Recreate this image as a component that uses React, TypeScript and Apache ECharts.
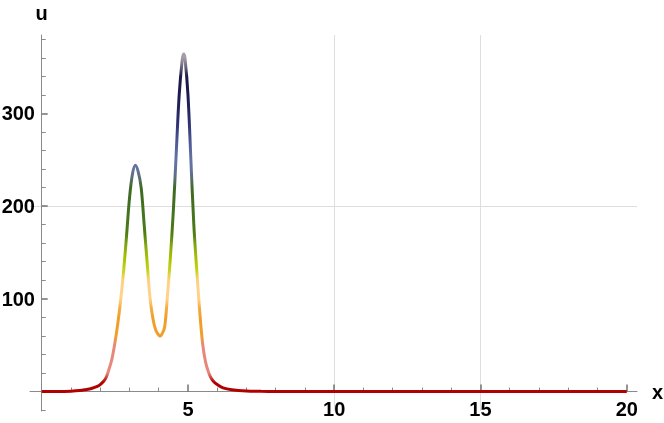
import React, { useEffect, useRef } from "react";
import * as echarts from "echarts";

const xValues = [0, 0.5, 1, 1.3, 1.5, 1.7, 1.9, 2, 2.1, 2.2, 2.3, 2.4, 2.5, 2.6, 2.7, 2.8, 2.9, 3, 3.1, 3.2, 3.3, 3.4, 3.5, 3.6, 3.7, 3.8, 3.9, 4, 4.05, 4.1, 4.2, 4.3, 4.4, 4.5, 4.6, 4.7, 4.8, 4.85, 4.9, 5, 5.1, 5.2, 5.3, 5.4, 5.5, 5.6, 5.7, 5.8, 5.9, 6, 6.2, 6.5, 7, 7.5, 8, 9, 10, 12, 14, 16, 18, 20];
const uValues = [0, 0.05, 0.4, 1, 2, 3.3, 5.5, 7.5, 10.5, 15, 24, 35, 52, 73, 99, 130, 168, 208, 234, 244, 237, 220, 181, 141, 102, 79, 66, 61, 60, 61.5, 69, 104, 145, 195, 258, 320, 357, 364, 359, 320, 250, 180, 131, 87, 52, 32, 21, 14, 10, 7.5, 4, 2, 0.6, 0.2, 0.05, 0, 0, 0, 0, 0, 0, 0];

const xMajorTicks = [5, 10, 15, 20];
const xMinorTicks = [1, 2, 3, 4, 6, 7, 8, 9, 11, 12, 13, 14, 16, 17, 18, 19];
const yMajorTicks = [100, 200, 300];
const yMinorTicks = [-20, 20, 40, 60, 80, 120, 140, 160, 180, 220, 240, 260, 280, 320, 340, 360, 380];

// colour stops for u = 0, 10, 20, ..., 380
const colorStops = [
  "#b00000", "#b00000", "#e8877c", "#e8877c", "#e8877c", "#e8877c",
  "#f0a02a", "#f0a02a", "#f0a02a", "#f4ac40", "#ffd28a", "#ffd28a", "#ffd080",
  "#c8d420", "#b0c800", "#98b808", "#7aa010", "#4f7c14", "#4a7818", "#457420",
  "#42701f", "#406c20", "#406a28", "#5a6e70", "#6472a0", "#6473a2", "#5c68a0",
  "#4c5690", "#3c4482", "#2e3270", "#262862", "#20205a", "#1c1c52", "#1a1a4c",
  "#1c1a48", "#6a6478", "#a49ca8", "#a8a0ac", "#a8a0ac",
];

export default function App() {
  const ref = useRef<HTMLDivElement>(null);
  useEffect(() => {
    const chart = echarts.init(ref.current!, null, { renderer: "svg" });
    const font = {
      fontFamily: "'Liberation Sans', Arial, sans-serif",
      fontWeight: "bold" as const,
      fontSize: 20,
      color: "#000",
    };
    const gridBox = { left: 30, right: 27, top: 35, bottom: 12, containLabel: false, outerBoundsMode: "none" };
    const xRange = { min: -0.4, max: 20.35 };
    const yRange = { min: -21, max: 384.6 };
    const axisColor = "#8a8a8a";
    chart.setOption({
      animation: false,
      grid: [{ ...gridBox }, { ...gridBox }],
      xAxis: [
        {
          type: "value",
          gridIndex: 0,
          ...xRange,
          name: "x",
          nameLocation: "end",
          nameGap: 15,
          nameTextStyle: { ...font, align: "left", verticalAlign: "middle" },
          axisLine: { onZero: true, lineStyle: { color: axisColor, width: 1 } },
          axisTick: { show: true, inside: true, length: 7, customValues: xMajorTicks, lineStyle: { color: "#707070", width: 1.5 } },
          axisLabel: { customValues: xMajorTicks, margin: -12, ...font },
          splitLine: { show: true, showMinLine: false, showMaxLine: false, lineStyle: { color: "#dedede", width: 1 } },
        },
        {
          type: "value",
          gridIndex: 1,
          ...xRange,
          axisLine: { show: false, onZero: true },
          axisTick: { show: true, inside: true, length: 4, customValues: xMinorTicks, lineStyle: { color: axisColor, width: 1 } },
          axisLabel: { show: false },
          splitLine: { show: false },
        },
      ],
      yAxis: [
        {
          type: "value",
          gridIndex: 0,
          ...yRange,
          name: "u",
          nameLocation: "end",
          nameGap: 12,
          nameTextStyle: { ...font, align: "center" },
          axisLine: { onZero: true, lineStyle: { color: axisColor, width: 1 } },
          axisTick: { show: true, inside: true, length: 6, customValues: yMajorTicks, lineStyle: { color: "#707070", width: 1.5 } },
          axisLabel: { customValues: yMajorTicks, margin: -5, ...font },
          splitLine: { show: true, showMinLine: false, showMaxLine: false, lineStyle: { color: "#dedede", width: 1 } },
        },
        {
          type: "value",
          gridIndex: 1,
          ...yRange,
          axisLine: { show: false, onZero: true },
          axisTick: { show: true, inside: true, length: 4, customValues: yMinorTicks, lineStyle: { color: axisColor, width: 1 } },
          axisLabel: { show: false },
          splitLine: { show: false },
        },
      ],
      visualMap: {
        show: false,
        type: "continuous",
        seriesIndex: 0,
        dimension: 1,
        min: 0,
        max: 380,
        inRange: { color: colorStops },
      },
      series: [
        {
          type: "line",
          xAxisIndex: 0,
          yAxisIndex: 0,
          data: xValues.map((x, i) => [x, uValues[i]]),
          showSymbol: false,
          smooth: 0.35,
          lineStyle: { width: 3 },
        },
      ],
    });
    return () => chart.dispose();
  }, []);
  return <div ref={ref} style={{ position: "fixed", left: 0, top: 0, width: 664, height: 423 }} />;
}
